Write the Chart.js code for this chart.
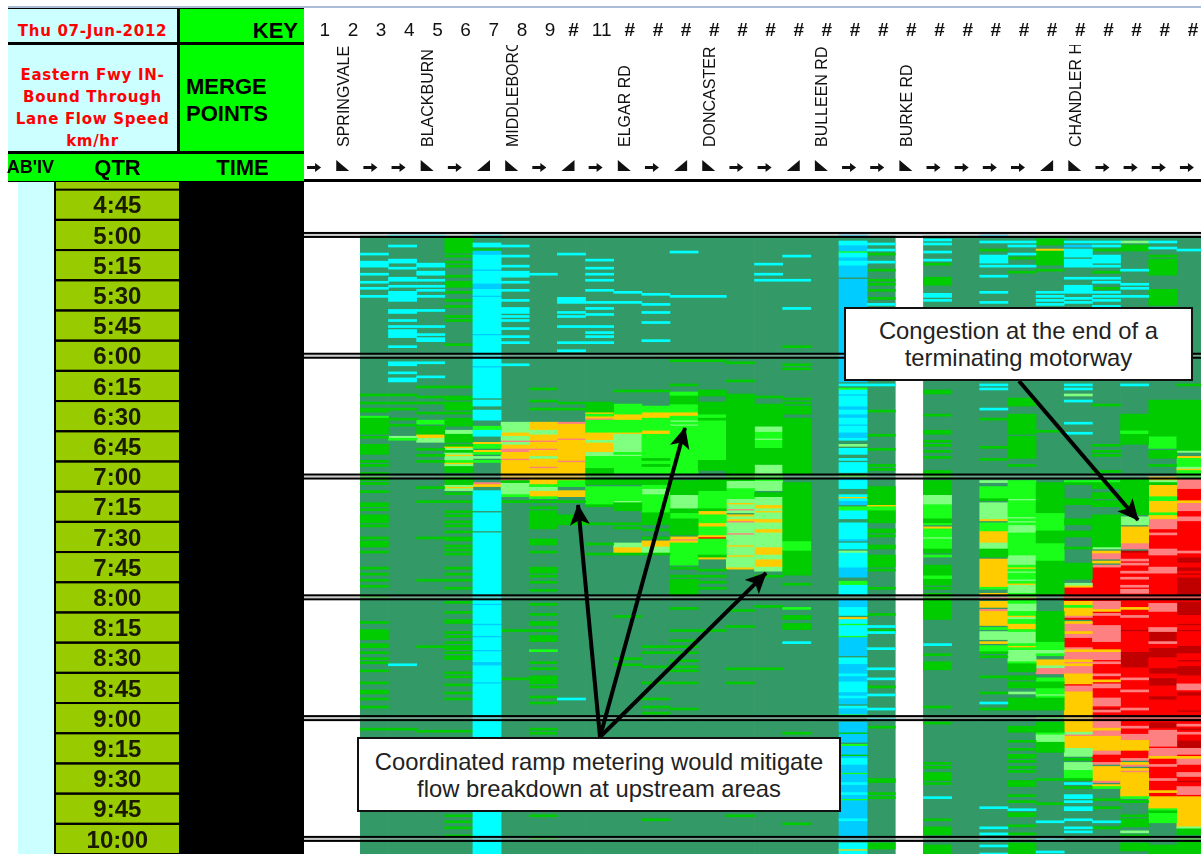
<!DOCTYPE html>
<html>
<head>
<meta charset="utf-8">
<title>Eastern Fwy IN-Bound Through Lane Flow Speed</title>
<script src="https://cdn.jsdelivr.net/npm/chart.js@4"></script>
<style>
    html, body { margin: 0; padding: 0; background: #fff; overflow: hidden; width: 1201px; height: 854px; }
    #wrap { position: relative; width: 1201px; height: 854px; overflow: hidden; font-family: "Liberation Sans", Arial, sans-serif; }
    #chart { position: absolute; left: 0; top: 0; }
    .cell { position: absolute; box-sizing: border-box; white-space: nowrap; overflow: hidden; }
    .pale { background: #ccffff; color: #ff0000; font: bold 15px "DejaVu Sans", sans-serif; text-align: center; letter-spacing: 0.7px; }
    .key { background: #00ff00; color: #000; font-weight: bold; font-size: 22px; }
    .note { position: absolute; box-sizing: border-box; background: #fff; border: 2px solid #111; color: #222; font-size: 23.8px; line-height: 27px; text-align: center; white-space: nowrap; }
    svg { position: absolute; left: 0; top: 0; }
</style>
</head>
<body>
<div id="wrap">
    <canvas id="chart" width="1205" height="854"></canvas>

    <!-- header block -->
    <div class="cell" style="left:8px;top:6px;width:1193px;height:2px;background:#a9bdd9"></div>
    <div class="cell" style="left:8px;top:8px;width:296px;height:174px;background:#000"></div>
    <div class="cell pale" style="left:8px;top:9px;width:169px;height:33px;line-height:45px">Thu 07-Jun-2012</div>
    <div class="cell pale" style="left:8px;top:45px;width:169px;height:106px;line-height:22px;padding-top:19px">Eastern Fwy IN-<br>Bound Through<br>Lane Flow Speed<br>km/hr</div>
    <div class="cell key" style="left:180px;top:9px;width:124px;height:33px;line-height:44px;text-align:right;padding-right:6px">KEY</div>
    <div class="cell key" style="left:180px;top:45px;width:124px;height:106px;line-height:27px;padding:28px 0 0 6px">MERGE<br>POINTS</div>
    <div class="cell key" style="left:8px;top:154px;width:296px;height:27px;line-height:27px;background:#00ff00"></div>
    <div class="cell key" style="left:0;top:154px;width:55px;height:27px;line-height:27px;background:transparent;font-size:18px;text-align:right;padding-right:1px">AB'IV</div>
    <div class="cell key" style="left:80px;top:154px;width:75px;height:27px;line-height:27px;background:transparent;text-align:center">QTR</div>
    <div class="cell key" style="left:205px;top:154px;width:75px;height:27px;line-height:27px;background:transparent;text-align:center">TIME</div>

    <!-- callouts -->
    <svg width="1201" height="854">
        <defs>
            <marker id="head" markerUnits="userSpaceOnUse" markerWidth="24" markerHeight="24" refX="20" refY="10" orient="auto">
                <path d="M0,0 L21,10 L0,20 L5,10 Z" fill="#000"></path>
            </marker>
        </defs>
        <g stroke="#000" stroke-width="4" fill="none">
            <line x1="600" y1="737" x2="578" y2="505" marker-end="url(#head)"></line>
            <line x1="600" y1="737" x2="685" y2="428" marker-end="url(#head)"></line>
            <line x1="600" y1="737" x2="766" y2="573" marker-end="url(#head)"></line>
            <line x1="1019" y1="381" x2="1138" y2="520" marker-end="url(#head)"></line>
        </g>
    </svg>
    <div class="note" style="left:357px;top:737px;width:484px;height:75px;padding-top:9px">Coordinated ramp metering would mitigate<br>flow breakdown at upstream areas</div>
    <div class="note" style="left:844px;top:307px;width:349px;height:74px;padding-top:8px">Congestion at the end of a<br>terminating motorway</div>
</div>

<script>
// column numbers along the top (they show # when too narrow in the sheet)
const columnLabels = ["1","2","3","4","5","6","7","8","9","#","11","#","#","#","#","#","#","#","#","#","#","#","#","#","#","#","#","#","#","#","#","#"];
// a = through lane arrow, m = merge, d = diverge
const laneSymbols = ["a","m","a","a","m","a","d","m","a","d","a","m","a","d","m","a","a","d","m","a","a","m","a","a","a","a","d","m","a","a","a","a"];
const mergeNames = ["SPRINGVALE","BLACKBURN","MIDDLEBORO","ELGAR RD","DONCASTER","BULLEEN RD","BURKE RD","CHANDLER H"];
const mergeColumns = [2,5,8,12,15,19,22,28];
const qtrLabels = ["4:45","5:00","5:15","5:30","5:45","6:00","6:15","6:30","6:45","7:00","7:15","7:30","7:45","8:00","8:15","8:30","8:45","9:00","9:15","9:30","9:45","10:00"];
const qtrMinutes = [-15,0,15,30,45,60,75,90,105,120,135,150,165,180,195,210,225,240,255,270,285,300];
const hourMinutes = [0,60,120,180,240,300];
const noDataColumns = [1,2,22];
const speedColors = {
    c: "#00ffff", s: "#00ccff", g: "#00cc00", l: "#19ff19", p: "#80ff80",
    y: "#ffcc00", m: "#ff8080", r: "#ff0000", d: "#c00000"
};

// one string per column: colour code + minute after 5:00 (or a range). later tokens win.
const columnRuns = [
    "",
    "",
    "c9 c13-15 c19 c23 c26 c30 g79 g83 g86-87 l90 g91-98 g100 g104-108 g112 g114 g118 g120-121 g123 g127 g133-134 g136 g139-142 g144 g150 g152-154 g157 g165 g168 g171 g174 g179 g192 g196-200 g203 g204 g207 g210 g212 g216 g222 g226-227 g230 g234 g245",
    "c0 c5 c12-13 c16 c21-22 c25 c28-32 c37-38 c42 c45 c47-50 c55 c63-64 c68 c71-72 g79 g83 g86 g91 g94 p100 l101 c213 g245",
    "c0 c14-15 c18 c19 c22 c25 c27 c30 c37 c45 c49 c51-52 c63 c70 g75 g80 g83 g88 l92-93 g95-98 y99-100 p101-102 g106 g109 g112 g125 g132 g150 g171 g204 g246",
    "g1-7 g8 g10 g13 g15 g20 g23-25 g28 g32 g35 g40 g42 g54 g75 g80-81 g83-86 g88 g91-94 p97-98 g99-102 g104 y105 p106 g107 p108 y109 p110-111 l112 y113 p114 g115-117 g120-123 p124 y125 p126 g128 g132 g137 g139 g142 g144 g147 g150-151 g154 g156 g158 g165 g168 g171 g175 g182 g187 g191-192 g197 g199 g202 g204 g205 g207 g209-210 g217 g219 g223 g227 g230 g246 g288 g291 g294 g298",
    "c0 c4-5 g7 s8-9 c10-16 s17 c18-23 s24-26 c27-29 s30 c31-48 s49 c50-64 s65 c66-80 c82-84 c87-91 l95-96 c97-99 y103 l104-105 y107 l108 p110 l112 m123 y124 c127-136 c138-146 c148-182 s183 c184-192 s193 c194-198 s199 c200-205 s206 c207-211 s212-213 c214-221 s222 c223-307",
    "c5 c10 c15 c18-20 c23 c27 c32 c36-38 c40 c42 c46 c50 c53 c64 p93-97 y98-99 p100-101 m102 p103 y104-105 m106-107 y108-110 m111 y112-120 m121 g122 p123-128 l129 g132 g196 g220",
    "c19 g76 g82 g86 y93-96 p97-98 y99-101 m102 y103-105 m106 y107-109 p110 y111-114 m115 y116-123 l124 p125-126 y127-129 l130 g132 g135 g137-145 g151-153 g157 g165-167 g169 g172 g176 g183 g188 g192-193 g196 g199-201 l206 g212 g215 g219-222 g224 g229 g232 g245 g247 g288 g299",
    "c9 c31-33 c38 c40 c45 c53 c57 g83 g86 m93 y94-100 m101 y102-111 m112 y113-121 l122-124 y127-129 g132 g139-143 c230",
    "c12 c16 c19 c22 c27 c33 c36 c39 c45 c48 c50 c53 g83-87 y88 l89 y90 m91 l92-97 y98-101 p102 y103-107 p108-109 l110-115 g116-119 g121-123 l125-133 g134 g143 g153 g158",
    "c28 c33 g77 l84-88 y89-91 l92-97 y98 p99-107 l108 p109 l110-118 g121-123 l125-131 p132 g133-136 g143 g145 p153-154 y155-157 g158 g189 g210 g213",
    "c29 c34 c38 c43 c52 g77 l85-87 y88-90 l91-96 y97-98 l99-118 g111 g114 g121-123 l124-125 p126-128 l129-137 g138-143 g146 g150 y152-154 p155-157 g158 g204 g207 g214 g222 g230 g234 g237 g290",
    "c8 c30 g62 g74 l78-79 g80-83 l84-87 y88-89 l90-91 p92 l93 p94 l95-118 g122-128 p129-135 g136-137 l138-140 g141-148 y150 m151 y152 l153-163 g165 g169 g171-178 g185 g196 g201 g204 g207 g211 g214 g216 g222 g235",
    "c30 g62 g77-79 g83-88 l89-90 g91 l92-111 g112-116 g121-126 l127-135 g136 y137-138 l139-142 y143-144 l145-148 y149 r150 l151-158 g159 y160 g166 g169 g172 g175 g196",
    "g63 g72 g79-81 g82-121 p122-125 l126-130 p131-132 y133 p134-135 m136 p137 y139 p140 y141 m142 p143-147 m148 p149-153 y154 p155-158 y159 p160-164 y165 g186 g194 g215 g222 g288",
    "c14 c19 c22 g80 g84-94 p95-97 l98-100 p101 l102-105 g106-113 p114-118 l119-121 p122-126 g128-129 p130-133 y134-135 p136 y137 p138-140 y141-142 p143-145 y146-147 p148-154 y155-158 p159-160 y161-164 p165-166 g169 g184 g215",
    "c10 c22 c36 g55 g64 g66 g81 g83 g85-88 g91-118 g123-151 l152-156 g157-168 g173 l185 g189-190 g193-195 c202 g247 g292",
    "",
    "s0 c3-4 s5-7 l8 c9-10 s11-12 c13-14 s15-20 s22-72 c74 l76 c77-78 s79 c80-84 s85-86 c87-88 s89-90 c91-93 s94 c95-97 s98-100 c101 p104 c106-108 c111 c113-117 l119 s121 c122-125 c129 y130 c131 s132-133 l135-136 c137-140 c143-150 s151 c153-155 p157 c158-164 s165-169 l172-173 c174-178 s181-184 c185-188 y190 c191-192 l193 c194-198 l199 s200-208 c210-212 s213-217 c218 s219-221 c222-226 s227-228 c229 s230-232 c234 s235-237 l238 s242-246 g247 s248-251 l253 s254-257 g258 s259 c260-262 s263-266 l267 s268-271 c272 s273-276 c277 s278-279 l280 s281-289 c290 s291-298 s300 c302-304 y305 c306-307",
    "c4 c7 g9 c13 g17 g22 g24 g27 g31 c34 c74 g87 g99 g106 g114 g116 g125-133 y134 l135-136 g137-142 g146-147 g149 g154-155 g159-164 g166 g175 g188 c194 g196 c197 c205 c215 c220 g224 c228 c235 c240 g244 g270-271 g277 g279 g302-304",
    "",
    "c2 c4 c8 c12 g14 g21-24 c29-30 c32 g77-78 g89 g97-98 g102 g104 g107 g110 g117-120 g122-128 p129-133 l134-140 g141-142 l143 y145 l146-149 p150 l151-155 g156-157 l159 g164-168 l169-170 g171-173 g175 g178-190 c203 g208 g212-215 g234 g242 g262 g264 g267-270 g272 c279 g290 g294-297 g303-307",
    "",
    "s0 c3 g7 c10-13 c15 c20 c28 c33 c74 c76 c86 g91 g105 g111 p122 l125-130 g131 p133-140 y141 l143-146 y147-152 p153-155 g156-159 y161-174 l175 y178 m180 y182-184 m186 y187-193 l195 p197-200 y202 l204-206 g207 g209 g219 g227 c232 g235 c284 c294 c297 c300 c303 c307",
    "c3 c5 c9 g11 c15 g18 g81-84 g89-98 g100-110 g114 l122-215 p131 p140 p142 p144-147 p159-163 y165 p167 p171 y173 p174-177 y180 p183-186 y189 p190 y193-195 p197-202 y204 p206-211 g213-216 g219-220 g222-224 p227 g230-235 g244-246 g251 g255 g258-259 g261 g264 g266 g271-273 g278 g281 c285 g287-288 g293 g297 g302-307",
    "g2-4 y7 g8-14 g17 c28 c30 c32 c34 g97 g123-178 l138-146 l153-161 g187-201 l202-205 p206-207 l208 y211-213 p214 m215-217 l220-221 g222-224 l225-227 p228 l229 g230-235 l239 g242-246 l247 p248-251 g252-256 g270 g282 c291 c300 c306",
    "c3 s5 c7-10 c12-15 c21 c25-28 c31 c33 c74 c76 p79 c82 c93 c98 l122 g123 g131-133 g141-143 g147-149 g155 g163-170 p173 y174 r175-181 y182-183 l184 y185-188 m189 r190 y192 m193-196 y197 m198-199 r200-204 m205 y206 m207-210 y211 m212 y213 m214-217 y218-222 r223 m224-226 y227-246 p247 m248 y249-254 p255-258 g260 p262-265 l266-269 g270 c272 g274 c278-279 c281 c284-285 c290 c294 c296",
    "c3 c5 g7 c10-13 c15 g18 c21 c23 g26 c28 c30 c32 c35 g84 g104 g107 g109 g117 l122 g123-125 g128-130 g132-134 g139-154 p155 y157 m158-160 y162 m164 r165-240 m182-185 y186 m188 m194-201 y206 m207-210 m212 m218 y221 m223-224 m230-233 d235 m236 m241-248 y245 y249-255 m256-257 r258-261 m262 y264-270 m271 y273 l274 g280 g284 c291 g294",
    "p3 g5-7 c17 c24 c26 c30 c74 g89-103 l97-98 g121-138 p140-143 y145-152 m153-155 d157 r158-250 m161 m163 m167 m170 m174 m176-177 y185 m189 d196 d207-214 m220 m226 m235 m244 m248-250 y251-255 r256-259 m260 y262 m263 y265 m266 y267-278 l279 g281 g288 g290-293 p296 g298 g302-305",
    "c3 c6 g10 g12-19 g27-34 g82-99 l100-105 g107-110 g114 y120-140 p122 g123 l130-131 l138 m141-144 r145-250 m145 m148 m156-158 m165-167 m183-186 m195-196 d197-201 m202 d205-209 d215-217 d220-223 d229-230 d242-244 m246-253 r254 m255-258 y259 r260-262 m263 r264-269 m270 r271-275 y276 r277-278 y279-284 l285 g286 l287-291 g303-307",
    "c7 g74 g82-106 p107 y110 l111-114 p115 y116 l117-120 m121-125 r126-131 y132 m133-136 r137-278 m140-141 m157 d160-162 d165-166 d168 d170-178 d182-188 d193 d196 d204-207 d211 d214-217 d218 m223-225 d227-228 d236 m243 d245 m247 d251-254 m255-257 y259 m260-262 m267-268 d271 m274-277 y279-293 p294 g295-297 g299-307"
];

// turn each column string into merged floating bars, one dataset per colour
function buildDatasets() {
    const barsByCode = {};
    Object.keys(speedColors).forEach(function (code) {
        barsByCode[code] = [];
    });

    columnRuns.forEach(function (runs, index) {
        const grid = {};
        runs.split(" ").filter(Boolean).forEach(function (token) {
            const match = token.match(/^([a-z])(\d+)(?:-(\d+))?$/);
            const from = +match[2];
            const to = match[3] ? +match[3] : from;
            for (let m = from; m <= to; m++) grid[m] = match[1];
        });

        let m = 0;
        while (m < 308) {
            const code = grid[m];
            let end = m + 1;
            while (end < 308 && grid[end] === code) end++;
            if (code) barsByCode[code].push({x: String(index), y: [m, end]});
            m = end;
        }
    });

    const commonBar = {grouped: false, categoryPercentage: 1, barPercentage: 1, borderWidth: 0};
    const datasets = Object.keys(speedColors).map(function (code) {
        return Object.assign({label: code, data: barsByCode[code], backgroundColor: speedColors[code]}, commonBar);
    });

    // the dark green "free flow" base goes last so it is painted first
    const baseBars = columnLabels.map(function (label, index) {
        return noDataColumns.includes(index + 1) ? null : {x: String(index), y: [0.5, 308]};
    }).filter(Boolean);
    datasets.push(Object.assign({label: "free flow", data: baseBars, backgroundColor: "#339966"}, commonBar));
    return datasets;
}

// left hand QTR / TIME columns, painted under the axis labels
const sheetPanels = {
    id: "sheetPanels",
    beforeDraw: function (chart) {
        const ctx = chart.ctx;
        const yScale = chart.scales.y;
        const top = chart.chartArea.top;
        const bottom = chart.chartArea.bottom;
        const halfRow = (yScale.getPixelForValue(15) - yScale.getPixelForValue(0)) / 2;

        ctx.save();
        ctx.fillStyle = "#ccffff";
        ctx.fillRect(18, top, 37, bottom - top);
        ctx.fillStyle = "#99cc00";
        ctx.fillRect(55, top, 124, bottom - top);
        ctx.fillStyle = "#000";
        ctx.fillRect(179, top - 1, 125, bottom - top + 1);
        ctx.fillRect(54, top, 2, bottom - top);
        ctx.fillRect(304, top - 3, 897, 3);
        qtrMinutes.forEach(function (minute) {
            const y = yScale.getPixelForValue(minute);
            ctx.fillRect(55, y - halfRow - 1, 124, 2);
            ctx.fillRect(55, y + halfRow - 1, 124, 2);
        });
        ctx.restore();
    },
    afterDatasetsDraw: function (chart) {
        const ctx = chart.ctx;
        const yScale = chart.scales.y;
        const left = chart.chartArea.left;
        ctx.save();
        hourMinutes.forEach(function (minute) {
            const y = yScale.getPixelForValue(minute);
            ctx.fillStyle = "rgba(170,170,170,0.6)";
            ctx.fillRect(left, y - 1, 897, 2);
            ctx.fillStyle = "#000";
            ctx.fillRect(left, y - 3, 897, 2);
            ctx.fillRect(left, y + 1, 897, 2);
        });
        ctx.restore();
    },
    afterDraw: function (chart) {
        const ctx = chart.ctx;
        const xScale = chart.scales.x;

        // merge point names
        ctx.save();
        ctx.beginPath();
        ctx.rect(304, 45, 897, 109);
        ctx.clip();
        ctx.fillStyle = "#111";
        ctx.font = '16px "Liberation Sans", Arial, sans-serif';
        ctx.textAlign = "left";
        ctx.textBaseline = "middle";
        mergeNames.forEach(function (name, index) {
            const x = xScale.getPixelForValue(mergeColumns[index] - 1) - 2;
            ctx.save();
            ctx.translate(x, 147);
            ctx.rotate(-Math.PI / 2);
            ctx.fillText(name, 0, 0);
            ctx.restore();
        });
        ctx.restore();

        // lane symbols under the names
        ctx.save();
        ctx.fillStyle = "#111";
        laneSymbols.forEach(function (symbol, index) {
            const x = xScale.getPixelForValue(index) - 4;
            ctx.beginPath();
            if (symbol === "a") {
                ctx.rect(x - 7, 166, 9, 3);
                ctx.moveTo(x + 1, 163);
                ctx.lineTo(x + 7, 167.5);
                ctx.lineTo(x + 1, 172);
            } else if (symbol === "m") {
                ctx.moveTo(x - 6, 160);
                ctx.lineTo(x - 6, 171);
                ctx.lineTo(x + 7, 171);
            } else {
                ctx.moveTo(x + 7, 160);
                ctx.lineTo(x + 7, 171);
                ctx.lineTo(x - 6, 171);
            }
            ctx.closePath();
            ctx.fill();
        });
        ctx.restore();
    }
};

document.addEventListener("DOMContentLoaded", function () {
    new Chart(document.getElementById("chart"), {
        type: "bar",
        data: {
            labels: columnLabels.map(function (label, index) { return String(index); }),
            datasets: buildDatasets()
        },
        plugins: [sheetPanels],
        options: {
            responsive: false,
            animation: false,
            events: [],
            layout: {padding: 0},
            plugins: {legend: {display: false}, tooltip: {enabled: false}},
            scales: {
                x: {
                    position: "top",
                    grid: {display: false, drawTicks: false},
                    border: {display: false},
                    // tick padding would otherwise eat into the plot area
                    afterFit: function (scale) {
                        scale.height = 182;
                        scale.paddingLeft = 0;
                        scale.paddingRight = 0;
                    },
                    ticks: {
                        autoSkip: false,
                        maxRotation: 0,
                        minRotation: 0,
                        padding: 140,
                        color: "#111",
                        labelOffset: 2,
                        font: function (ctx) {
                            return {family: '"Liberation Sans", Arial, sans-serif', size: 19, weight: columnLabels[ctx.index] === "#" ? "bold" : "normal"};
                        },
                        callback: function (value, index) {
                            const label = columnLabels[index];
                            return label.length === 1 && label !== "#" ? "\u2002" + label : label;
                        }
                    }
                },
                y: {
                    type: "linear",
                    reverse: true,
                    min: -26.3,
                    max: 307.5,
                    grid: {display: false, drawTicks: false},
                    border: {display: false},
                    afterFit: function (scale) {
                        scale.width = 304;
                        scale.paddingTop = 0;
                        scale.paddingBottom = 0;
                    },
                    afterBuildTicks: function (scale) {
                        scale.ticks = qtrMinutes.map(function (minute) { return {value: minute}; });
                    },
                    ticks: {
                        crossAlign: "center",
                        padding: 156,
                        labelOffset: 2,
                        color: "#1a1a00",
                        font: {family: '"Liberation Sans", Arial, sans-serif', size: 24, weight: "bold"},
                        callback: function (value) {
                            return qtrLabels[qtrMinutes.indexOf(value)];
                        }
                    }
                }
            }
        }
    });
});
</script>
</body>
</html>
